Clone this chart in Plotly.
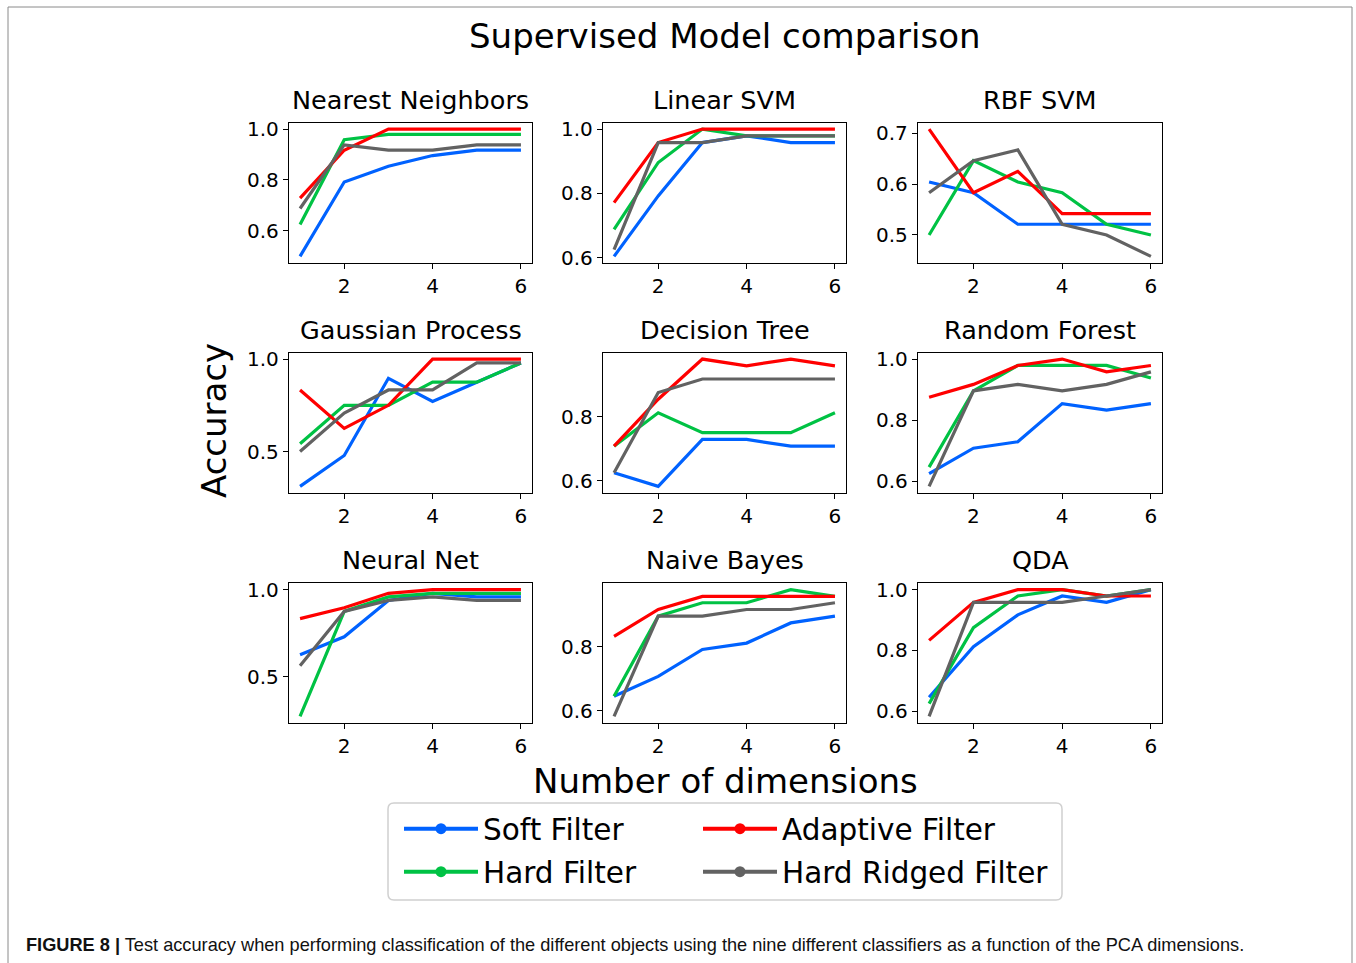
import plotly.graph_objects as go

W, H = 1356, 963

dims = [1, 2, 3, 4, 5, 6]
classifiers = ["Nearest Neighbors", "Linear SVM", "RBF SVM",
               "Gaussian Process", "Decision Tree", "Random Forest",
               "Neural Net", "Naive Bayes", "QDA"]

soft_filter = [
    [0.500, 0.792, 0.854, 0.896, 0.917, 0.917],
    [0.604, 0.792, 0.958, 0.979, 0.958, 0.958],
    [0.604, 0.583, 0.521, 0.521, 0.521, 0.521],
    [0.312, 0.479, 0.896, 0.771, 0.875, 0.979],
    [0.625, 0.583, 0.729, 0.729, 0.708, 0.708],
    [0.625, 0.708, 0.729, 0.854, 0.833, 0.854],
    [0.625, 0.729, 0.938, 0.979, 0.958, 0.958],
    [0.646, 0.708, 0.792, 0.812, 0.875, 0.896],
    [0.646, 0.812, 0.917, 0.979, 0.958, 1.000],
]
hard_filter = [
    [0.625, 0.958, 0.979, 0.979, 0.979, 0.979],
    [0.688, 0.896, 1.000, 0.979, 0.979, 0.979],
    [0.500, 0.646, 0.604, 0.583, 0.521, 0.500],
    [0.542, 0.750, 0.750, 0.875, 0.875, 0.979],
    [0.708, 0.812, 0.750, 0.750, 0.750, 0.812],
    [0.646, 0.896, 0.979, 0.979, 0.979, 0.938],
    [0.271, 0.875, 0.958, 0.979, 0.979, 0.979],
    [0.646, 0.896, 0.938, 0.938, 0.979, 0.958],
    [0.625, 0.875, 0.979, 1.000, 0.979, 1.000],
]
adaptive_filter = [
    [0.729, 0.917, 1.000, 1.000, 1.000, 1.000],
    [0.771, 0.958, 1.000, 1.000, 1.000, 1.000],
    [0.708, 0.583, 0.625, 0.542, 0.542, 0.542],
    [0.833, 0.625, 0.750, 1.000, 1.000, 1.000],
    [0.708, 0.854, 0.979, 0.958, 0.979, 0.958],
    [0.875, 0.917, 0.979, 1.000, 0.958, 0.979],
    [0.833, 0.896, 0.979, 1.000, 1.000, 1.000],
    [0.833, 0.917, 0.958, 0.958, 0.958, 0.958],
    [0.833, 0.958, 1.000, 1.000, 0.979, 0.979],
]
hard_ridged_filter = [
    [0.688, 0.938, 0.917, 0.917, 0.938, 0.938],
    [0.625, 0.958, 0.958, 0.979, 0.979, 0.979],
    [0.583, 0.646, 0.667, 0.521, 0.500, 0.458],
    [0.500, 0.708, 0.833, 0.833, 0.979, 0.979],
    [0.625, 0.875, 0.917, 0.917, 0.917, 0.917],
    [0.583, 0.896, 0.917, 0.896, 0.917, 0.958],
    [0.562, 0.875, 0.938, 0.958, 0.938, 0.938],
    [0.583, 0.896, 0.896, 0.917, 0.917, 0.938],
    [0.583, 0.958, 0.958, 0.958, 0.979, 1.000],
]
y_tick_steps = [0.2, 0.2, 0.1, 0.5, 0.2, 0.2, 0.5, 0.2, 0.2]
x_ticks = [2, 4, 6]

series_names = ["Soft Filter", "Hard Filter", "Adaptive Filter", "Hard Ridged Filter"]
series_data = [soft_filter, hard_filter, adaptive_filter, hard_ridged_filter]
series_colors = ["#0062ff", "#00c244", "#ff0000", "#626262"]

# layout geometry (pixels)
col_px = [(289, 532), (603, 846), (918, 1162)]
row_px = [(122.7, 262.7), (352.7, 492.7), (583.3, 722.7)]

def px(x):
    return x / W

def py(y):
    return 1 - y / H

FONT = "DejaVu Sans"
fig = go.Figure()
layout = {}
annotations = []

for i, name in enumerate(classifiers):
    r, c = divmod(i, 3)
    ax = "" if i == 0 else str(i + 1)
    allv = [v for s in series_data for v in s[i]]
    lo, hi = min(allv), max(allv)
    pad = 0.05 * (hi - lo)
    for k, (sname, sdata, col) in enumerate(zip(series_names, series_data, series_colors)):
        fig.add_trace(go.Scatter(
            x=dims, y=sdata[i], mode="lines", name=sname,
            line=dict(color=col, width=3.2),
            xaxis="x" + ax, yaxis="y" + ax, showlegend=False, hoverinfo="skip"))
    common = dict(showline=True, mirror=True, linecolor="black", linewidth=1.3,
                  ticks="outside", ticklen=5, tickwidth=1.3, tickcolor="black",
                  showgrid=False, zeroline=False,
                  tickfont=dict(family=FONT, size=20, color="black"))
    layout["xaxis" + ax] = dict(domain=[px(col_px[c][0]), px(col_px[c][1])],
                                anchor="y" + ax, range=[0.75, 6.25],
                                tickvals=x_ticks, **common)
    layout["yaxis" + ax] = dict(domain=[py(row_px[r][1]), py(row_px[r][0])],
                                anchor="x" + ax, range=[lo - pad, hi + pad],
                                tick0=0, dtick=y_tick_steps[i], tickformat=".1f", **common)
    annotations.append(dict(text=name, x=px((col_px[c][0] + col_px[c][1]) / 2),
                            y=py(row_px[r][0] - 6), xref="paper", yref="paper",
                            xanchor="center", yanchor="bottom", showarrow=False,
                            font=dict(family=FONT, size=25.5, color="black")))

# legend-only handles (line with a dot, like the original legend)
legend_pos = {
    "Soft Filter": ("legend", 399, 829),
    "Adaptive Filter": ("legend2", 698, 829),
    "Hard Filter": ("legend3", 399, 872),
    "Hard Ridged Filter": ("legend4", 698, 872),
}
for sname, col in zip(series_names, series_colors):
    lg, lx, ly = legend_pos[sname]
    fig.add_trace(go.Scatter(
        x=[None], y=[None], mode="lines+markers", name=sname,
        line=dict(color=col, width=4), marker=dict(color=col, size=11),
        legend=lg, showlegend=True, hoverinfo="skip"))
    layout[lg] = dict(x=px(lx), y=py(ly), xanchor="left", yanchor="middle",
                      bgcolor="rgba(0,0,0,0)", borderwidth=0, itemwidth=74,
                      font=dict(family=FONT, size=29.5, color="black"))

annotations += [
    dict(text="Supervised Model comparison", x=px(725), y=py(36), xref="paper", yref="paper",
         xanchor="center", yanchor="middle", showarrow=False,
         font=dict(family=FONT, size=34, color="black")),
    dict(text="Number of dimensions", x=px(725), y=py(781), xref="paper", yref="paper",
         xanchor="center", yanchor="middle", showarrow=False,
         font=dict(family=FONT, size=34, color="black")),
    dict(text="Accuracy", x=px(214), y=py(421), xref="paper", yref="paper", textangle=-90,
         xanchor="center", yanchor="middle", showarrow=False,
         font=dict(family=FONT, size=34, color="black")),
    dict(text="<b>FIGURE 8 |</b> Test accuracy when performing classification of the different objects using the nine different classifiers as a function of the PCA dimensions.",
         x=px(24), y=py(945), xref="paper", yref="paper", xanchor="left", yanchor="middle",
         showarrow=False, font=dict(family="Liberation Sans, Arial", size=18.2, color="#111111")),
]

# legend frame with rounded corners
x0, x1, y0, y1, rr = 388, 1062, 803, 900, 6
path = (f"M{px(x0+rr)},{py(y0)} L{px(x1-rr)},{py(y0)} Q{px(x1)},{py(y0)} {px(x1)},{py(y0+rr)} "
        f"L{px(x1)},{py(y1-rr)} Q{px(x1)},{py(y1)} {px(x1-rr)},{py(y1)} "
        f"L{px(x0+rr)},{py(y1)} Q{px(x0)},{py(y1)} {px(x0)},{py(y1-rr)} "
        f"L{px(x0)},{py(y0+rr)} Q{px(x0)},{py(y0)} {px(x0+rr)},{py(y0)} Z")
shapes = [
    dict(type="path", path=path, xref="paper", yref="paper",
         line=dict(color="#d0d0d0", width=1.5), fillcolor="rgba(255,255,255,0.8)", layer="below"),
    dict(type="line", xref="paper", yref="paper", x0=px(8), x1=px(8), y0=0, y1=py(7),
         line=dict(color="#8a8a8a", width=1)),
    dict(type="line", xref="paper", yref="paper", x0=px(8), x1=px(1352), y0=py(7), y1=py(7),
         line=dict(color="#8a8a8a", width=1)),
    dict(type="line", xref="paper", yref="paper", x0=px(1352), x1=px(1352), y0=0, y1=py(7),
         line=dict(color="#8a8a8a", width=1)),
]

fig.update_layout(**layout)
fig.update_layout(width=W, height=H, margin=dict(l=0, r=0, t=0, b=0, autoexpand=False),
                  paper_bgcolor="white", plot_bgcolor="white",
                  annotations=annotations, shapes=shapes,
                  font=dict(family=FONT, color="black"))

fig.write_html("out.html", config={"displayModeBar": False})
